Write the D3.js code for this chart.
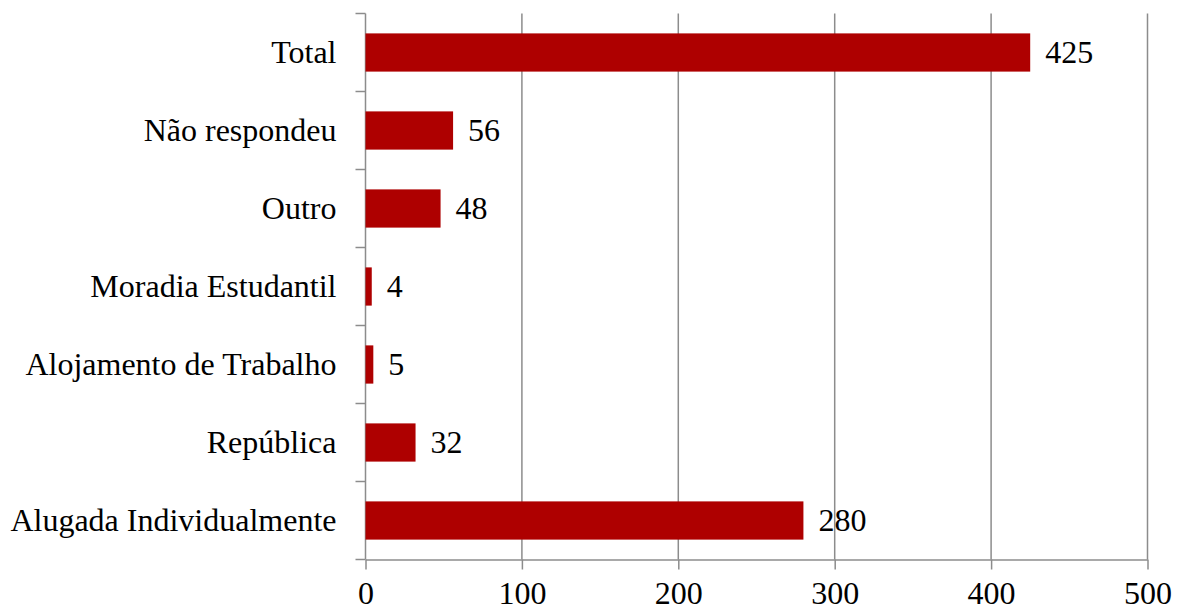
<!DOCTYPE html>
<html>
<head>
<meta charset="utf-8">
<script src="https://cdn.jsdelivr.net/npm/d3@7"></script>
<style>
    body { margin: 0; background: #fff; }
    svg text { font-family: "Liberation Serif", "Times New Roman", serif !important; }
</style>
</head>
<body>
<div id="chart"></div>
<script>
// Categories from top to bottom, with their counts
const categories = ["Total", "Não respondeu", "Outro", "Moradia Estudantil", "Alojamento de Trabalho", "República", "Alugada Individualmente"];
const counts = [425, 56, 48, 4, 5, 32, 280];
const xTicks = [0, 100, 200, 300, 400, 500];

const W = 1183, H = 610;
const margin = {top: 13.5, right: 35.5, bottom: 50.5, left: 365.5};
const width = W - margin.left - margin.right,
    height = H - margin.top - margin.bottom;
const fontSize = "32px";
const serif = "'Liberation Serif', 'Times New Roman', serif";

const svg = d3.select("#chart")
    .append("svg")
    .attr("width", W)
    .attr("height", H)
    .append("g")
    .attr("transform", "translate(" + margin.left + "," + margin.top + ")");

const x = d3.scaleLinear().domain([0, 500]).range([0, width]);
const y = d3.scaleBand().domain(categories).range([0, height]).paddingInner(0.51).paddingOuter(0.255);
const band = d3.scaleBand().domain(categories).range([0, height]);

const gridColor = "#8c8c8c";

// vertical gridlines
svg.append("g")
    .selectAll("line")
    .data(xTicks.slice(1))
    .enter()
    .append("line")
    .attr("x1", d => x(d))
    .attr("x2", d => x(d))
    .attr("y1", 0)
    .attr("y2", height)
    .attr("stroke", gridColor)
    .attr("stroke-width", 1.5);

// bottom axis
const xAxis = svg.append("g")
    .attr("transform", "translate(0," + height + ")")
    .call(d3.axisBottom(x).tickValues(xTicks).tickSize(10).tickSizeOuter(0).tickPadding(12));
xAxis.select(".domain").attr("stroke", gridColor).attr("stroke-width", 1.5);
xAxis.selectAll(".tick line").attr("stroke", gridColor).attr("stroke-width", 1.5);
xAxis.selectAll("text")
    .style("font-size", fontSize)
    .style("font-family", serif)
    .attr("fill", "#000");

// left axis with ticks between the categories
const leftAxis = svg.append("g");
leftAxis.append("line")
    .attr("x1", 0).attr("x2", 0)
    .attr("y1", 0).attr("y2", height)
    .attr("stroke", gridColor)
    .attr("stroke-width", 1.5);
leftAxis.selectAll(".sep")
    .data(categories.concat(["end"]))
    .enter()
    .append("line")
    .attr("x1", -10).attr("x2", 0)
    .attr("y1", (d, i) => i * band.bandwidth())
    .attr("y2", (d, i) => i * band.bandwidth())
    .attr("stroke", gridColor)
    .attr("stroke-width", 1.5);
leftAxis.selectAll(".cat")
    .data(categories)
    .enter()
    .append("text")
    .attr("x", -29)
    .attr("y", d => band(d) + band.bandwidth() / 2)
    .attr("dy", "0.32em")
    .attr("text-anchor", "end")
    .style("font-size", fontSize)
    .style("font-family", serif)
    .attr("fill", "#000")
    .text(d => d);

// bars
svg.append("g")
    .selectAll("rect")
    .data(counts)
    .enter()
    .append("rect")
    .attr("x", 0)
    .attr("y", (d, i) => y(categories[i]))
    .attr("width", d => x(d))
    .attr("height", y.bandwidth())
    .attr("fill", "#ae0000");

// value labels
svg.append("g")
    .selectAll("text")
    .data(counts)
    .enter()
    .append("text")
    .attr("x", d => x(d) + 15)
    .attr("y", (d, i) => band(categories[i]) + band.bandwidth() / 2)
    .attr("dy", "0.32em")
    .style("font-size", fontSize)
    .style("font-family", serif)
    .attr("fill", "#000")
    .text(d => d);
</script>
</body>
</html>
